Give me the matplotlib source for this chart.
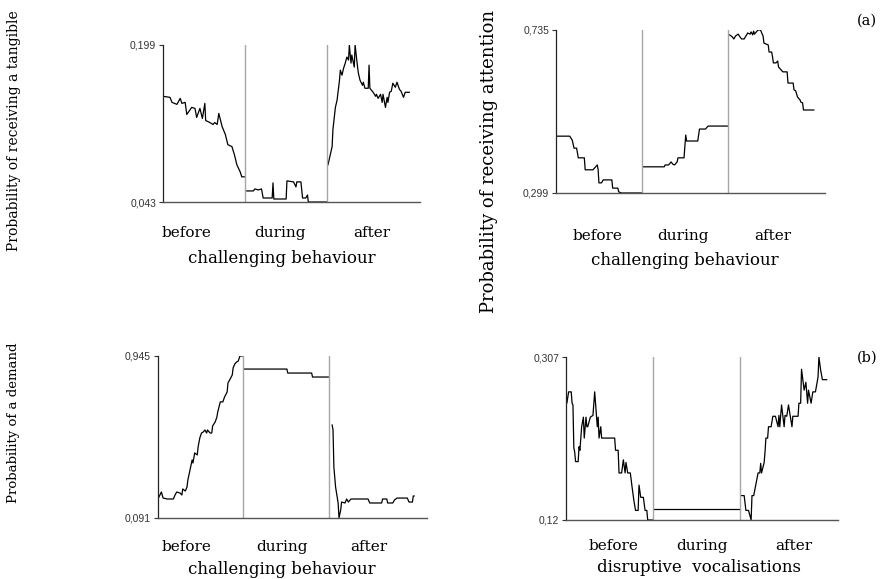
import matplotlib
matplotlib.use("Agg")
import matplotlib.pyplot as plt
import numpy as np

# x = percentage of each phase (0-100); y = probability
phases = ["before", "during", "after"]

# (a) tangible, around challenging behaviour
tangible_before_t = [0, 8.5, 11, 17, 21, 23, 27, 29, 35, 39, 41, 45, 48, 51, 52, 57, 61, 63, 66, 68,
                     72, 76, 79, 84, 87, 90, 94, 96, 100]
tangible_before_p = [0.148, 0.147, 0.142, 0.140, 0.146, 0.141, 0.142, 0.130, 0.137, 0.136, 0.127,
                     0.136, 0.126, 0.141, 0.124, 0.122, 0.120, 0.122, 0.120, 0.131, 0.118, 0.110,
                     0.100, 0.098, 0.090, 0.080, 0.073, 0.068, 0.068]
tangible_during_t = [2, 10, 12, 16, 20, 22, 33, 34, 35, 50, 51, 59, 62, 63, 68, 70, 74, 76, 77, 100]
tangible_during_p = [0.054, 0.054, 0.056, 0.055, 0.056, 0.047, 0.047, 0.062, 0.046, 0.046, 0.064,
                     0.063, 0.058, 0.063, 0.063, 0.047, 0.047, 0.050, 0.043, 0.043]
tangible_after_t = [1, 6, 7, 10, 12, 15, 16, 18, 20, 22, 24, 26, 27, 29, 30, 33, 34, 37, 38, 40,
                    43, 44, 46, 50, 51, 52, 56, 59, 60, 62, 65, 67, 68, 71, 73, 74, 76, 78, 80,
                    83, 85, 88, 90, 93, 95, 100]
tangible_after_p = [0.080, 0.098, 0.115, 0.137, 0.144, 0.164, 0.174, 0.169, 0.176, 0.181, 0.187,
                    0.184, 0.199, 0.181, 0.189, 0.177, 0.199, 0.177, 0.171, 0.164, 0.159, 0.162,
                    0.156, 0.156, 0.179, 0.156, 0.152, 0.148, 0.150, 0.146, 0.150, 0.142, 0.150,
                    0.137, 0.147, 0.142, 0.152, 0.153, 0.161, 0.157, 0.162, 0.155, 0.153, 0.147,
                    0.152, 0.152]

# (a) attention, around challenging behaviour
attention_before_t = [0, 16, 19, 21, 24, 26, 33, 34, 43, 45, 48, 49, 50, 53, 55, 65, 66, 72, 73, 76, 100]
attention_before_p = [0.451, 0.451, 0.440, 0.419, 0.419, 0.393, 0.393, 0.361, 0.361, 0.366, 0.374,
                      0.363, 0.326, 0.326, 0.334, 0.334, 0.312, 0.312, 0.302, 0.299, 0.299]
attention_during_t = [2, 26, 27, 31, 34, 36, 38, 41, 42, 49, 51, 52, 65, 67, 74, 77, 100]
attention_during_p = [0.369, 0.369, 0.374, 0.374, 0.382, 0.376, 0.374, 0.382, 0.393, 0.393, 0.454,
                      0.438, 0.438, 0.470, 0.470, 0.478, 0.478]
attention_after_t = [2, 5, 7, 9, 12, 14, 16, 19, 21, 22, 23, 26, 27, 29, 30, 31, 34, 35, 38, 40,
                     41, 42, 47, 48, 51, 52, 53, 56, 58, 59, 64, 69, 70, 76, 77, 79, 81, 84, 85,
                     87, 88, 100]
attention_after_p = [0.722, 0.717, 0.711, 0.719, 0.724, 0.717, 0.711, 0.711, 0.719, 0.722, 0.727,
                     0.724, 0.730, 0.722, 0.732, 0.724, 0.732, 0.735, 0.735, 0.724, 0.719, 0.700,
                     0.695, 0.676, 0.676, 0.663, 0.647, 0.647, 0.652, 0.636, 0.623, 0.623, 0.593,
                     0.593, 0.575, 0.572, 0.556, 0.548, 0.542, 0.540, 0.521, 0.521]

# (a) demand, around challenging behaviour
demand_before_t = [0, 4, 6, 11, 18, 20, 22, 26, 28, 29, 32, 34, 35, 37, 40, 41, 43, 46, 47, 49,
                   51, 53, 55, 57, 58, 61, 63, 64, 67, 69, 70, 73, 76, 78, 81, 82, 84, 87, 88,
                   90, 92, 94, 96, 100]
demand_before_p = [0.191, 0.228, 0.196, 0.191, 0.191, 0.212, 0.228, 0.222, 0.212, 0.244, 0.233,
                   0.254, 0.291, 0.333, 0.397, 0.381, 0.434, 0.423, 0.465, 0.513, 0.539, 0.544,
                   0.555, 0.539, 0.555, 0.539, 0.539, 0.576, 0.597, 0.623, 0.650, 0.703, 0.703,
                   0.729, 0.755, 0.803, 0.819, 0.845, 0.882, 0.903, 0.913, 0.918, 0.945, 0.945]
demand_during_t = [1, 51, 52, 80, 81, 100]
demand_during_p = [0.876, 0.876, 0.855, 0.855, 0.834, 0.834]
demand_after_t = [4, 5, 6, 8, 11, 12, 14, 15, 19, 21, 23, 26, 28, 46, 48, 62, 63, 68, 69, 75, 77,
                  80, 92, 94, 98, 99, 100]
demand_after_p = [0.581, 0.555, 0.360, 0.254, 0.170, 0.091, 0.133, 0.175, 0.170, 0.191, 0.175,
                  0.191, 0.191, 0.191, 0.170, 0.170, 0.191, 0.191, 0.170, 0.170, 0.186, 0.196,
                  0.196, 0.175, 0.175, 0.207, 0.207]

# (b) around disruptive vocalisations
vocal_before_t = [0, 1, 3, 6, 7, 8, 9, 10, 11, 14, 15, 16, 18, 20, 21, 23, 24, 25, 28, 31, 33,
                  36, 37, 38, 40, 41, 56, 57, 60, 61, 64, 66, 68, 69, 71, 74, 76, 78, 80, 83,
                  84, 86, 89, 91, 93, 94, 100]
vocal_before_p = [0.267, 0.254, 0.267, 0.267, 0.254, 0.252, 0.203, 0.198, 0.187, 0.187, 0.204,
                  0.200, 0.227, 0.238, 0.214, 0.238, 0.227, 0.227, 0.238, 0.240, 0.267, 0.227,
                  0.238, 0.214, 0.227, 0.214, 0.214, 0.200, 0.200, 0.174, 0.174, 0.189, 0.174,
                  0.186, 0.174, 0.174, 0.158, 0.143, 0.131, 0.131, 0.160, 0.146, 0.146, 0.131,
                  0.131, 0.120, 0.120]
vocal_during_t = [1, 100]
vocal_during_p = [0.133, 0.133]
vocal_after_t = [2, 5, 7, 10, 13, 14, 16, 21, 23, 24, 25, 28, 29, 30, 32, 33, 36, 38, 41, 44,
                 45, 46, 48, 51, 52, 54, 56, 60, 61, 67, 68, 70, 71, 74, 76, 78, 79, 82, 84,
                 87, 90, 91, 93, 95, 100]
vocal_after_p = [0.148, 0.148, 0.131, 0.131, 0.120, 0.148, 0.148, 0.174, 0.174, 0.185, 0.174,
                 0.186, 0.198, 0.214, 0.214, 0.227, 0.227, 0.239, 0.239, 0.227, 0.240, 0.227,
                 0.252, 0.227, 0.240, 0.239, 0.252, 0.227, 0.239, 0.239, 0.254, 0.254, 0.293,
                 0.269, 0.278, 0.254, 0.269, 0.254, 0.267, 0.267, 0.284, 0.307, 0.292, 0.281,
                 0.281]

tangible_ticks = [0.043, 0.199]
tangible_ticklabels = ["0,043", "0,199"]
attention_ticks = [0.299, 0.735]
attention_ticklabels = ["0,299", "0,735"]
demand_ticks = [0.091, 0.945]
demand_ticklabels = ["0,091", "0,945"]
vocal_ticks = [0.12, 0.307]
vocal_ticklabels = ["0,12", "0,307"]

SERIF = "DejaVu Serif"
SANS = "Liberation Sans"


def draw_panel(rect, series, yticks, yticklabels, phase_pos, xlabel, tick_pad, label_xy, xmax):
    ax = fig.add_axes(rect)
    for i, (t, p) in enumerate(series):
        ax.plot(np.array(t) + 100 * i, p, color="black", lw=0.9)
    for sep in (100, 200):
        ax.axvline(sep, color="#a6a6a6", lw=1.0)
    ax.set_xlim(0, xmax)
    ax.set_ylim(yticks[0], yticks[1])
    ax.set_yticks(yticks)
    ax.set_yticklabels(yticklabels, fontfamily=SANS, fontsize=7.5)
    ax.tick_params(axis="y", direction="out", length=3, width=0.8, pad=2, colors="#333333")
    ax.set_xticks(phase_pos)
    ax.set_xticklabels(phases, fontfamily=SERIF, fontsize=11)
    ax.tick_params(axis="x", length=0, pad=tick_pad)
    # axis title placed by hand (it sits off-centre in the original)
    ax.text(label_xy[0], label_xy[1], xlabel, transform=ax.transAxes, ha="center", va="center",
            fontfamily=SERIF, fontsize=12)
    ax.spines["top"].set_visible(False)
    ax.spines["right"].set_visible(False)
    ax.spines["left"].set_color("#222222")
    ax.spines["bottom"].set_color("#555555")
    ax.spines["left"].set_linewidth(0.9)
    ax.spines["bottom"].set_linewidth(1.0)
    return ax


fig = plt.figure(figsize=(8.96, 5.79), dpi=100)

draw_panel([0.1819, 0.6511, 0.2868, 0.2712],
           [(tangible_before_t, tangible_before_p), (tangible_during_t, tangible_during_p),
            (tangible_after_t, tangible_after_p)],
           tangible_ticks, tangible_ticklabels, [29, 143, 254],
           "challenging behaviour", 17, (0.463, -0.357), 313)

draw_panel([0.6205, 0.6667, 0.3002, 0.2815],
           [(attention_before_t, attention_before_p), (attention_during_t, attention_during_p),
            (attention_after_t, attention_after_p)],
           attention_ticks, attention_ticklabels, [48, 148, 252],
           "challenging behaviour", 26, (0.48, -0.417), 313)

draw_panel([0.1763, 0.1054, 0.3002, 0.2798],
           [(demand_before_t, demand_before_p), (demand_during_t, demand_during_p),
            (demand_after_t, demand_after_p)],
           demand_ticks, demand_ticklabels, [33, 145, 247],
           "challenging behaviour", 16, (0.461, -0.321), 315)

draw_panel([0.6317, 0.1019, 0.3036, 0.2815],
           [(vocal_before_t, vocal_before_p), (vocal_during_t, vocal_during_p),
            (vocal_after_t, vocal_after_p)],
           vocal_ticks, vocal_ticklabels, [55, 156, 262],
           "disruptive  vocalisations", 14, (0.49, -0.294), 313)

fig.text(0.0156, 0.775, "Probability of receiving a tangible", rotation=90,
         ha="center", va="center", fontfamily=SERIF, fontsize=10)
fig.text(0.546, 0.721, "Probability of receiving attention", rotation=90,
         ha="center", va="center", fontfamily=SERIF, fontsize=13)
fig.text(0.0156, 0.269, "Probability of a demand", rotation=90,
         ha="center", va="center", fontfamily=SERIF, fontsize=9.5)
fig.text(0.968, 0.965, "(a)", ha="center", va="center", fontfamily=SERIF, fontsize=10.5)
fig.text(0.968, 0.383, "(b)", ha="center", va="center", fontfamily=SERIF, fontsize=10.5)

fig.savefig("out.png", dpi=100)
